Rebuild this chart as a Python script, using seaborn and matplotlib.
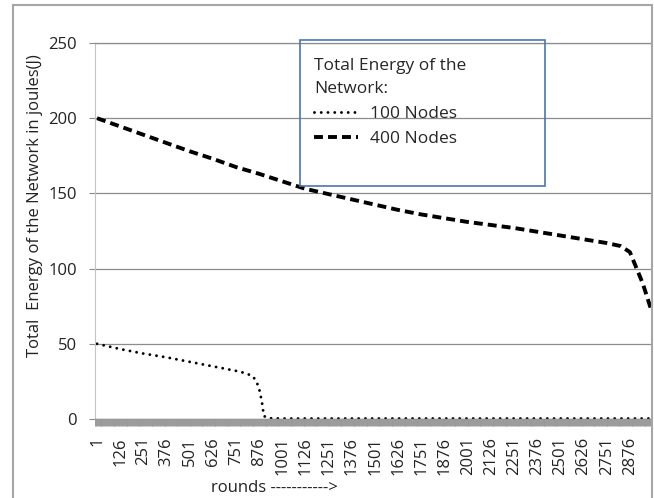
import matplotlib
matplotlib.use("Agg")
import matplotlib.pyplot as plt
from matplotlib.patches import Rectangle
from matplotlib.ticker import FixedLocator, MultipleLocator
import seaborn as sns
import pandas as pd

# values
rounds_400 = [1, 126, 251, 376, 501, 626, 751, 876, 1001, 1126, 1251, 1376, 1501, 1626,
              1751, 1876, 2001, 2126, 2251, 2376, 2501, 2626, 2751, 2826, 2876, 2906, 2946, 2990]
energy_400 = [200, 194.5, 189, 183.5, 178, 173, 167.5, 163, 158, 153, 149.5, 146, 142.5, 139,
              136, 133.5, 131, 129, 127, 124.5, 122, 119.5, 117, 115, 111, 102, 90, 73]

rounds_100 = [1, 126, 251, 376, 501, 626, 751, 801, 841, 861, 876, 891, 901, 926, 1001, 2990]
energy_100 = [50, 46.5, 43.5, 41, 38, 35, 32, 30.5, 28.5, 25, 20, 11, 2, 0.5, 0.3, 0.3]

tick_rounds = list(range(1, 2877, 125))
y_ticks = [0, 50, 100, 150, 200, 250]

sns.set_style("white")
plt.rcParams['font.family'] = ['Open Sans', 'DejaVu Sans']

W, H = 654, 498
fig = plt.figure(figsize=(W / 100, H / 100), dpi=100)
ax = fig.add_axes([95 / W, 1 - 419 / H, (651 - 95) / W, (419 - 43) / H])

df100 = pd.DataFrame({'round': rounds_100, 'energy': energy_100})
df400 = pd.DataFrame({'round': rounds_400, 'energy': energy_400})

sns.lineplot(data=df100, x='round', y='energy', ax=ax, color='black', lw=2.1,
             linestyle=(0, (0.01, 2.3)), dash_capstyle='round', label='100 Nodes')
sns.lineplot(data=df400, x='round', y='energy', ax=ax, color='black', lw=2.8,
             linestyle=(0, (2.3, 1.3)), label='400 Nodes')

ax.set_xlim(-10, 2990)
ax.set_ylim(0, 250)
ax.set_xlabel('')
ax.set_ylabel('')

ax.xaxis.set_major_locator(FixedLocator(tick_rounds))
ax.set_xticklabels([str(t) for t in tick_rounds], rotation=90, fontsize=12, color='#222222')
ax.xaxis.set_minor_locator(MultipleLocator(5))
ax.tick_params(axis='x', which='major', length=0, pad=13)
ax.tick_params(axis='x', which='minor', bottom=True, length=5, width=0.7, color='#999999', direction='out')

ax.set_yticks(y_ticks)
ax.set_yticklabels([str(v) for v in y_ticks], fontsize=12, color='#222222')
ax.tick_params(axis='y', which='major', left=True, length=4, width=0.8, color='#8c8c8c', pad=9)

ax.yaxis.grid(True, color='#8c8c8c', lw=0.9)
ax.set_axisbelow(True)
ax.spines['right'].set_visible(False)
ax.spines['top'].set_color('#8c8c8c')
ax.spines['top'].set_linewidth(0.9)
ax.spines['left'].set_color('#c4c4c4')
ax.spines['left'].set_linewidth(0.8)
ax.spines['bottom'].set_color('#999999')
ax.spines['bottom'].set_linewidth(1.0)

# legend text without frame, box drawn separately
leg = ax.legend(title='Total Energy of the\nNetwork:', loc='upper left',
                bbox_to_anchor=(302 / W, 1 - 46 / H), bbox_transform=fig.transFigure,
                frameon=False, fontsize=12.5, title_fontsize=12.5, alignment='left',
                handlelength=2.5, handletextpad=0.7, labelspacing=0.5, borderpad=0.2)
leg.get_title().set_linespacing(1.6)
fig.patches.append(Rectangle((300 / W, 1 - 186 / H), 245 / W, 146 / H, transform=fig.transFigure,
                             fill=False, edgecolor='#4a76b0', lw=1.2))

fig.text(35 / W, 1 - 206 / H, 'Total  Energy of the Network in joules(J)', rotation=90,
         ha='center', va='center', fontsize=12, color='#222222')
fig.text(274 / W, 1 - 488 / H, 'rounds ----------->', ha='center', va='center',
         fontsize=12, color='#222222')

# outer chart border
fig.patches.append(Rectangle((13 / W, 1 - 505 / H), 639 / W, 500 / H, transform=fig.transFigure,
                             fill=False, edgecolor='#a6a6a6', lw=1.5))

plt.savefig('out.png', dpi=100)
plt.close()
